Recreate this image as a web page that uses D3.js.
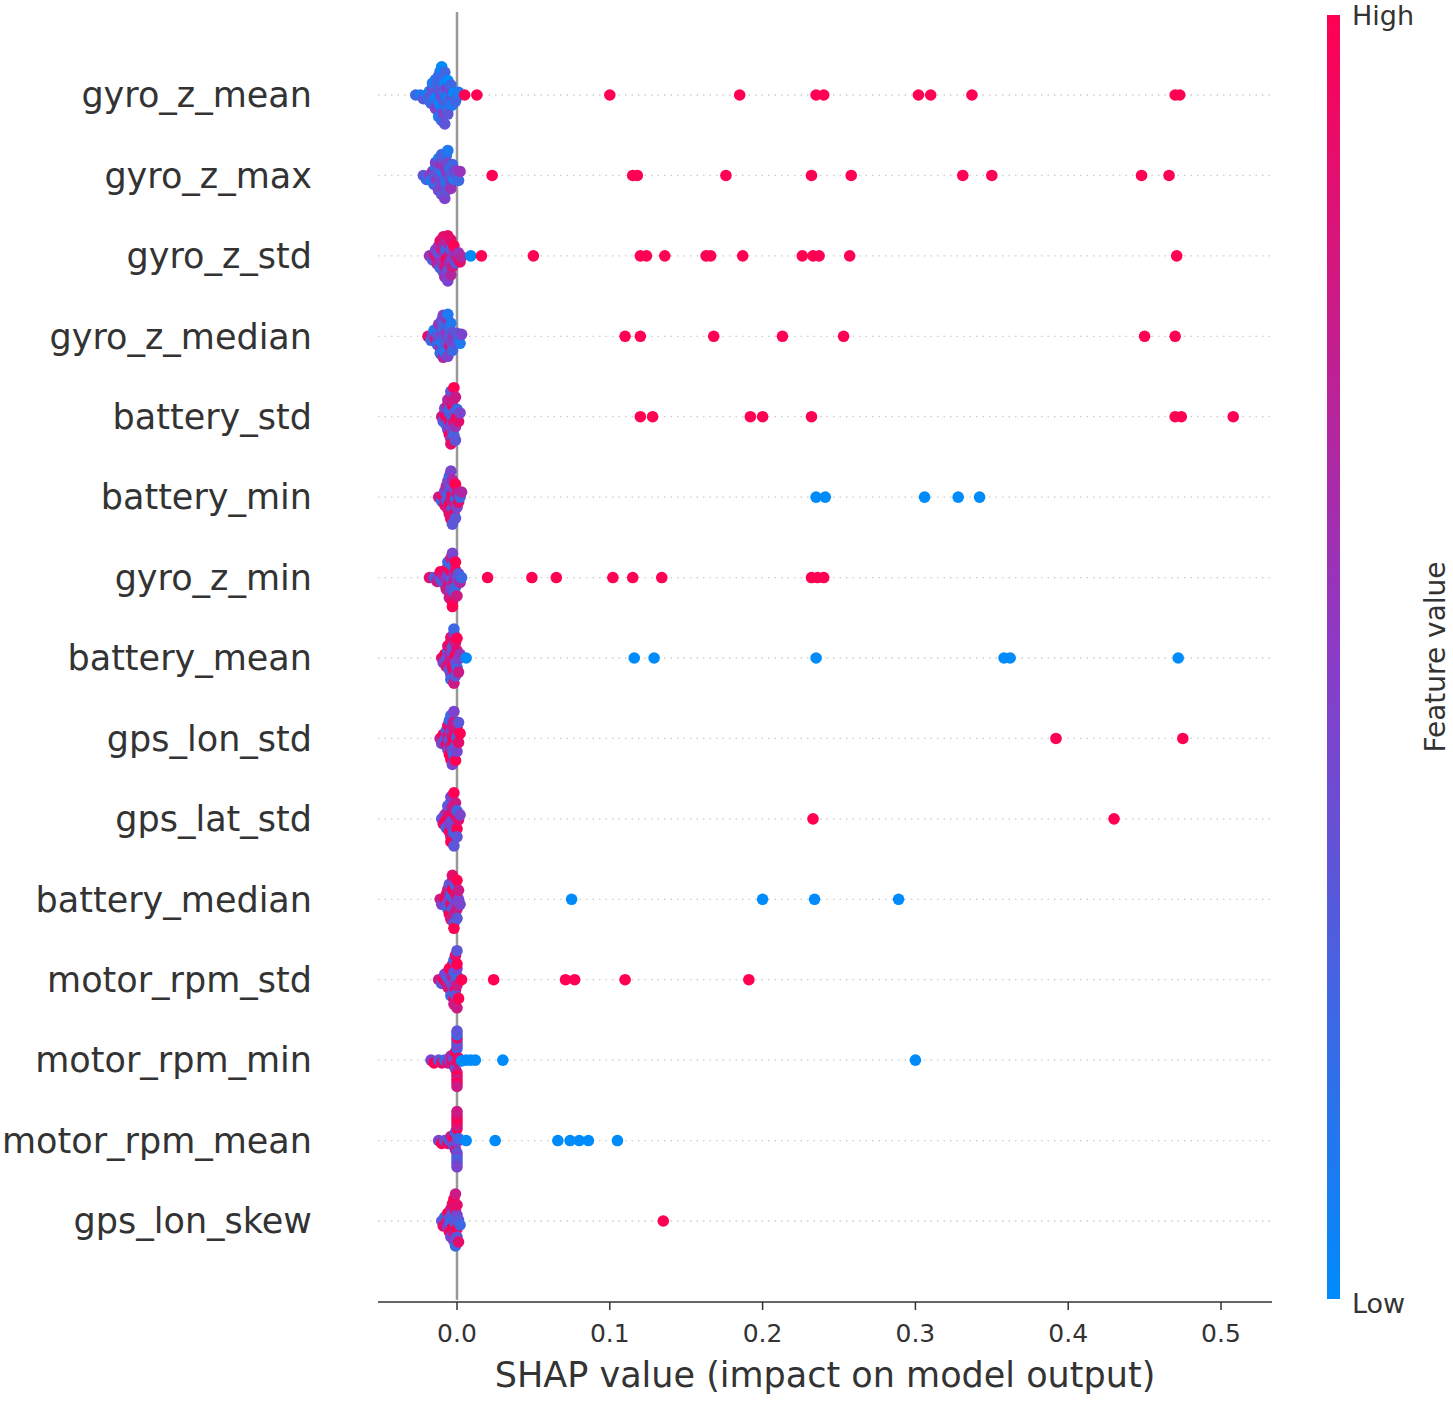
<!DOCTYPE html><html><head><meta charset="utf-8">
<script src="https://cdn.jsdelivr.net/npm/d3@7"></script>
<style>body{margin:0;background:#fff}</style></head><body>
<script>
const features=["gyro_z_mean","gyro_z_max","gyro_z_std","gyro_z_median","battery_std","battery_min","gyro_z_min","battery_mean","gps_lon_std","gps_lat_std","battery_median","motor_rpm_std","motor_rpm_min","motor_rpm_mean","gps_lon_skew"];
// cluster SHAP values (thousandths) and feature values (0-9)
const clusterX=[
"-27 -24 -22 -20 -19 -18 -17 -17 -16 -16 -15 -15 -14 -14 -14 -13 -13 -13 -12 -12 -12 -12 -11 -11 -11 -11 -10 -10 -10 -10 -9 -9 -9 -9 -8 -8 -8 -8 -7 -7 -7 -6 -6 -6 -5 -5 -4 -4 -3 -3 -2 -1 0 1",
"-22 -20 -18 -17 -16 -15 -15 -14 -14 -13 -13 -12 -12 -12 -11 -11 -11 -10 -10 -10 -9 -9 -9 -8 -8 -8 -7 -7 -7 -6 -6 -6 -5 -5 -4 -4 -3 -3 -2 -1 0 1 2",
"-18 -16 -15 -14 -13 -13 -12 -12 -11 -11 -10 -10 -10 -9 -9 -9 -8 -8 -8 -7 -7 -7 -6 -6 -6 -5 -5 -5 -4 -4 -4 -3 -3 -2 -2 -1 0 1 2 3",
"-19 -17 -16 -15 -14 -13 -13 -12 -12 -11 -11 -11 -10 -10 -10 -9 -9 -9 -8 -8 -8 -7 -7 -7 -6 -6 -6 -5 -5 -5 -4 -4 -3 -3 -2 -1 0 1 2 3",
"-10 -9 -8 -8 -7 -7 -6 -6 -6 -5 -5 -5 -5 -4 -4 -4 -4 -4 -3 -3 -3 -3 -2 -2 -2 -2 -1 -1 -1 0 0 1 2",
"-12 -10 -9 -8 -8 -7 -7 -6 -6 -6 -5 -5 -5 -5 -4 -4 -4 -4 -3 -3 -3 -3 -2 -2 -2 -1 -1 -1 0 0 1 2 3",
"-18 -15 -13 -12 -11 -10 -9 -8 -8 -7 -7 -6 -6 -6 -5 -5 -5 -4 -4 -4 -4 -3 -3 -3 -3 -2 -2 -2 -1 -1 -1 0 0 1 2 3",
"-10 -9 -8 -7 -7 -6 -6 -5 -5 -5 -4 -4 -4 -4 -3 -3 -3 -3 -2 -2 -2 -2 -1 -1 -1 -1 0 0 0 1 1 2",
"-11 -10 -9 -8 -7 -7 -6 -6 -6 -5 -5 -5 -4 -4 -4 -4 -3 -3 -3 -3 -2 -2 -2 -2 -1 -1 -1 0 0 0 1 1 2",
"-10 -9 -8 -7 -7 -6 -6 -5 -5 -5 -4 -4 -4 -4 -3 -3 -3 -3 -2 -2 -2 -1 -1 -1 0 0 0 1 2",
"-11 -10 -8 -7 -7 -6 -6 -5 -5 -5 -4 -4 -4 -3 -3 -3 -3 -2 -2 -2 -2 -1 -1 -1 0 0 0 1 1 2",
"-12 -10 -9 -8 -7 -6 -6 -5 -5 -4 -4 -4 -3 -3 -3 -2 -2 -2 -2 -1 -1 -1 -1 0 0 0 0 0 0 1",
"-17 -15 -12 -10 -8 -6 -5 -4 -3 -2 -2 -1 -1 -1 0 0 0 0 0 0 0 0 0 0 0 0 1",
"-12 -10 -8 -6 -5 -4 -3 -2 -2 -1 -1 -1 0 0 0 0 0 0 0 0 0 0 0 0 1",
"-10 -9 -8 -7 -6 -6 -5 -5 -4 -4 -4 -3 -3 -3 -2 -2 -2 -2 -1 -1 -1 -1 0 0 0 0 1 1 2"
];
const clusterC=[
"213121324131241032142130214320314210231421031242310221",
"3241532143524132543214325413254132453214325",
"5374863528475638475926384756386475937586",
"8241732153624132643215326413274132543214",
"738492746382947538294738295739284738294",
"729483627493827384926374829374826",
"8374926385749285739472849573829473628",
"84937285739482749385729473829475",
"749382748392749283749274839274839",
"38492738492749384729384729",
"7493827493827394827394827394",
"739482749382749382749382749",
"493827469374938274937892738",
"4938274938274937482938472",
"38274938274938274938274938"
];
const outliers=[
[[0.005,9],[0.013,9],[0.1,9],[0.185,9],[0.235,9],[0.24,9],[0.302,9],[0.31,9],[0.337,9],[0.47,9],[0.473,9]],
[[0.023,9],[0.115,9],[0.118,9],[0.176,9],[0.232,9],[0.258,9],[0.331,9],[0.35,9],[0.448,9],[0.466,9]],
[[0.009,0],[0.016,9],[0.05,9],[0.12,9],[0.124,9],[0.136,9],[0.163,9],[0.166,9],[0.187,9],[0.226,9],[0.233,9],[0.237,9],[0.257,9],[0.471,9]],
[[0.11,9],[0.12,9],[0.168,9],[0.213,9],[0.253,9],[0.45,9],[0.47,9]],
[[0.12,9],[0.128,9],[0.192,9],[0.2,9],[0.232,9],[0.47,9],[0.474,9],[0.508,9]],
[[0.235,0],[0.241,0],[0.306,0],[0.328,0],[0.342,0]],
[[0.02,9],[0.049,9],[0.065,9],[0.102,9],[0.115,9],[0.134,9],[0.232,9],[0.236,9],[0.24,9]],
[[0.006,0],[0.116,0],[0.129,0],[0.235,0],[0.358,0],[0.362,0],[0.472,0]],
[[0.392,9],[0.475,9]],
[[0.233,9],[0.43,9]],
[[0.075,0],[0.2,0],[0.234,0],[0.289,0]],
[[0.003,9],[0.024,9],[0.071,9],[0.077,9],[0.11,9],[0.191,9]],
[[0.003,0],[0.006,0],[0.009,0],[0.012,0],[0.03,0],[0.3,0]],
[[0.006,0],[0.025,0],[0.066,0],[0.074,0],[0.08,0],[0.086,0],[0.105,0]],
[[0.135,9]]
];
const xTicks=[0,0.1,0.2,0.3,0.4,0.5];

const W=1453,H=1402;
const svg=d3.select("body").append("svg").attr("width",W).attr("height",H).style("font-family","DejaVu Sans");
const x=d3.scaleLinear().domain([0,0.5]).range([457,1221]);
const y=d3.scalePoint().domain(features).range([95,1221]);
const color=d3.scaleLinear().domain([0,4.5,9]).range(["#008bfb","#8b3bc8","#ff0052"]).interpolate(d3.interpolateRgb);
const r=5.8;
svg.selectAll(".gl").data(features).join("line").attr("x1",378).attr("x2",1272)
 .attr("y1",d=>y(d)).attr("y2",d=>y(d)).attr("stroke","#ccc").attr("stroke-dasharray","1.5,5").attr("stroke-width",1.3);
svg.append("line").attr("x1",x(0)).attr("x2",x(0)).attr("y1",12).attr("y2",1300).attr("stroke","#999").attr("stroke-width",2.5);
features.forEach((f,i)=>{
  const xs=clusterX[i].split(" ").map(v=>+v/1000), cs=clusterC[i].split("");
  let pts=xs.map((v,j)=>({v,c:+cs[j%cs.length]}));
  outliers[i].forEach(o=>pts.push({v:o[0],c:o[1]}));
  pts.forEach(p=>p.px=x(p.v));
  pts.sort((a,b)=>a.px-b.px);
  const placed=[];
  pts.forEach(p=>{
    let best=0;
    for(let k=0;k<200;k++){
      const off=(k%2?1:-1)*Math.ceil(k/2)*1;
      if(placed.every(q=>(q.px-p.px)**2+(q.off-off)**2>=(0.75*r)**2)){best=off;break;}
    }
    p.off=best;placed.push(p);
  });
  const mx=d3.max(placed,p=>Math.abs(p.off))||1;
  const s=Math.min(1,29/mx);
  placed.forEach(p=>p.off*=s);
  svg.append("g").selectAll("circle").data(placed).join("circle")
   .attr("cx",d=>d.px).attr("cy",d=>y(f)+d.off).attr("r",r).attr("fill",d=>color(d.c));
});
svg.selectAll(".fl").data(features).join("text").attr("x",312).attr("y",d=>y(d)).attr("dy","0.35em")
 .attr("text-anchor","end").attr("font-size",35).attr("fill","#333").text(d=>d);
const ax=svg.append("g").attr("transform","translate(0,1302)");
ax.append("line").attr("x1",378).attr("x2",1272).attr("stroke","#333").attr("stroke-width",1.5);
xTicks.forEach(t=>{
  ax.append("line").attr("x1",x(t)).attr("x2",x(t)).attr("y2",8).attr("stroke","#333").attr("stroke-width",1.5);
  ax.append("text").attr("x",x(t)).attr("y",40).attr("text-anchor","middle").attr("font-size",25).attr("fill","#333").text(t.toFixed(1));
});
svg.append("text").attr("x",825).attr("y",1387).attr("text-anchor","middle").attr("font-size",35).attr("fill","#333").text("SHAP value (impact on model output)");
const defs=svg.append("defs");
const lg=defs.append("linearGradient").attr("id","cb").attr("x1",0).attr("x2",0).attr("y1",1).attr("y2",0);
d3.range(0,1.01,0.1).forEach(t=>lg.append("stop").attr("offset",t).attr("stop-color",color(t*9)));
svg.append("rect").attr("x",1327).attr("y",15).attr("width",13).attr("height",1284).attr("fill","url(#cb)");
svg.append("text").attr("x",1352).attr("y",25).attr("font-size",27).attr("fill","#333").text("High");
svg.append("text").attr("x",1352).attr("y",1313).attr("font-size",27).attr("fill","#333").text("Low");
svg.append("text").attr("transform","translate(1445,657) rotate(-90)").attr("text-anchor","middle").attr("font-size",28).attr("fill","#333").text("Feature value");
</script></body></html>
